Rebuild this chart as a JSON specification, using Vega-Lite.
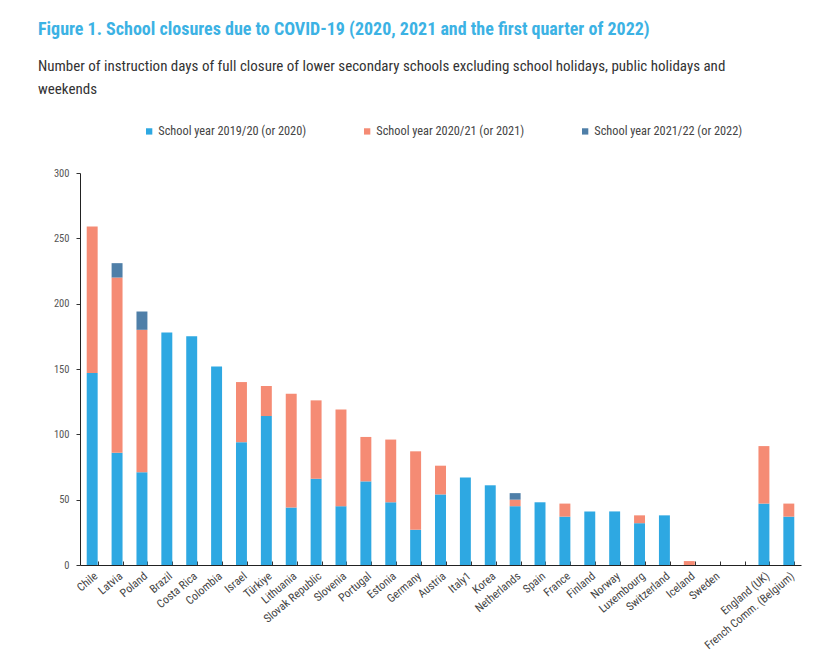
{
  "$schema": "https://vega.github.io/schema/vega-lite/v6.json",
  "width": 721,
  "height": 392,
  "autosize": "none",
  "padding": {"left": 80, "top": 173, "right": 13, "bottom": 101},
  "background": "white",
  "title": {
    "text": "Figure 1. School closures due to COVID-19 (2020, 2021 and the first quarter of 2022)",
    "subtitle": ["Number of instruction days of full closure of lower secondary schools excluding school holidays, public holidays and", "weekends"],
    "anchor": "start",
    "frame": "group",
    "dx": -42,
    "font": "Liberation Sans Narrow, Arial Narrow, Roboto Condensed, sans-serif",
    "fontSize": 18,
    "fontWeight": "bold",
    "color": "#3cb2e4",
    "subtitleFont": "Liberation Sans Narrow, Arial Narrow, Roboto Condensed, sans-serif",
    "subtitleFontSize": 15,
    "subtitleColor": "#333333",
    "subtitleLineHeight": 23,
    "subtitlePadding": 20,
    "offset": 28
  },
  "data": {
    "values": [
      {"country": "Chile", "series": "School year 2019/20 (or 2020)", "value": 147},
      {"country": "Chile", "series": "School year 2020/21 (or 2021)", "value": 112},
      {"country": "Latvia", "series": "School year 2019/20 (or 2020)", "value": 86},
      {"country": "Latvia", "series": "School year 2020/21 (or 2021)", "value": 134},
      {"country": "Latvia", "series": "School year 2021/22 (or 2022)", "value": 11},
      {"country": "Poland", "series": "School year 2019/20 (or 2020)", "value": 71},
      {"country": "Poland", "series": "School year 2020/21 (or 2021)", "value": 109},
      {"country": "Poland", "series": "School year 2021/22 (or 2022)", "value": 14},
      {"country": "Brazil", "series": "School year 2019/20 (or 2020)", "value": 178},
      {"country": "Costa Rica", "series": "School year 2019/20 (or 2020)", "value": 175},
      {"country": "Colombia", "series": "School year 2019/20 (or 2020)", "value": 152},
      {"country": "Israel", "series": "School year 2019/20 (or 2020)", "value": 94},
      {"country": "Israel", "series": "School year 2020/21 (or 2021)", "value": 46},
      {"country": "Türkiye", "series": "School year 2019/20 (or 2020)", "value": 114},
      {"country": "Türkiye", "series": "School year 2020/21 (or 2021)", "value": 23},
      {"country": "Lithuania", "series": "School year 2019/20 (or 2020)", "value": 44},
      {"country": "Lithuania", "series": "School year 2020/21 (or 2021)", "value": 87},
      {"country": "Slovak Republic", "series": "School year 2019/20 (or 2020)", "value": 66},
      {"country": "Slovak Republic", "series": "School year 2020/21 (or 2021)", "value": 60},
      {"country": "Slovenia", "series": "School year 2019/20 (or 2020)", "value": 45},
      {"country": "Slovenia", "series": "School year 2020/21 (or 2021)", "value": 74},
      {"country": "Portugal", "series": "School year 2019/20 (or 2020)", "value": 64},
      {"country": "Portugal", "series": "School year 2020/21 (or 2021)", "value": 34},
      {"country": "Estonia", "series": "School year 2019/20 (or 2020)", "value": 48},
      {"country": "Estonia", "series": "School year 2020/21 (or 2021)", "value": 48},
      {"country": "Germany", "series": "School year 2019/20 (or 2020)", "value": 27},
      {"country": "Germany", "series": "School year 2020/21 (or 2021)", "value": 60},
      {"country": "Austria", "series": "School year 2019/20 (or 2020)", "value": 54},
      {"country": "Austria", "series": "School year 2020/21 (or 2021)", "value": 22},
      {"country": "Italy1", "series": "School year 2019/20 (or 2020)", "value": 67},
      {"country": "Korea", "series": "School year 2019/20 (or 2020)", "value": 61},
      {"country": "Netherlands", "series": "School year 2019/20 (or 2020)", "value": 45},
      {"country": "Netherlands", "series": "School year 2020/21 (or 2021)", "value": 5},
      {"country": "Netherlands", "series": "School year 2021/22 (or 2022)", "value": 5},
      {"country": "Spain", "series": "School year 2019/20 (or 2020)", "value": 48},
      {"country": "France", "series": "School year 2019/20 (or 2020)", "value": 37},
      {"country": "France", "series": "School year 2020/21 (or 2021)", "value": 10},
      {"country": "Finland", "series": "School year 2019/20 (or 2020)", "value": 41},
      {"country": "Norway", "series": "School year 2019/20 (or 2020)", "value": 41},
      {"country": "Luxembourg", "series": "School year 2019/20 (or 2020)", "value": 32},
      {"country": "Luxembourg", "series": "School year 2020/21 (or 2021)", "value": 6},
      {"country": "Switzerland", "series": "School year 2019/20 (or 2020)", "value": 38},
      {"country": "Iceland", "series": "School year 2019/20 (or 2020)", "value": 0},
      {"country": "Iceland", "series": "School year 2020/21 (or 2021)", "value": 3},
      {"country": "Sweden", "series": "School year 2019/20 (or 2020)", "value": 0},
      {"country": "England (UK)", "series": "School year 2019/20 (or 2020)", "value": 47},
      {"country": "England (UK)", "series": "School year 2020/21 (or 2021)", "value": 44},
      {"country": "French Comm. (Belgium)", "series": "School year 2019/20 (or 2020)", "value": 37},
      {"country": "French Comm. (Belgium)", "series": "School year 2020/21 (or 2021)", "value": 10}
    ]
  },
  "mark": {"type": "bar"},
  "encoding": {
    "x": {
      "field": "country",
      "type": "nominal",
      "scale": {
        "domain": ["Chile", "Latvia", "Poland", "Brazil", "Costa Rica", "Colombia", "Israel", "Türkiye", "Lithuania", "Slovak Republic", "Slovenia", "Portugal", "Estonia", "Germany", "Austria", "Italy1", "Korea", "Netherlands", "Spain", "France", "Finland", "Norway", "Luxembourg", "Switzerland", "Iceland", "Sweden", " ", "England (UK)", "French Comm. (Belgium)"],
        "paddingInner": 0.56,
        "paddingOuter": 0.27
      },
      "axis": {
        "title": null,
        "labelAngle": -40,
        "labelFont": "Liberation Sans Narrow, Arial Narrow, Roboto Condensed, sans-serif",
        "labelFontSize": 11.5,
        "labelColor": "#444444",
        "tickBand": "extent",
        "tickSize": -4,
        "tickColor": "#333333",
        "labelPadding": 9,
        "domainColor": "#222222"
      }
    },
    "y": {
      "field": "value",
      "type": "quantitative",
      "aggregate": "sum",
      "stack": "zero",
      "scale": {"domain": [0, 300]},
      "axis": {
        "title": null,
        "grid": false,
        "values": [0, 50, 100, 150, 200, 250, 300],
        "labelFont": "Liberation Sans Narrow, Arial Narrow, Roboto Condensed, sans-serif",
        "labelFontSize": 10.5,
        "labelColor": "#555555",
        "tickSize": 4,
        "tickColor": "#333333",
        "domainColor": "#222222",
        "labelPadding": 7
      }
    },
    "color": {
      "field": "series",
      "type": "nominal",
      "scale": {
        "domain": ["School year 2019/20 (or 2020)", "School year 2020/21 (or 2021)", "School year 2021/22 (or 2022)"],
        "range": ["#2ea8e2", "#f58b74", "#4f7fa8"]
      },
      "legend": {
        "title": null,
        "orient": "none",
        "legendX": 63,
        "legendY": -48,
        "direction": "horizontal",
        "columns": 3,
        "symbolType": "square",
        "symbolSize": 40,
        "symbolStrokeWidth": 0,
        "labelFont": "Liberation Sans Narrow, Arial Narrow, Roboto Condensed, sans-serif",
        "labelFontSize": 12.3,
        "labelColor": "#444444",
        "columnPadding": 54,
        "labelOffset": 3
      }
    },
    "order": {"field": "series", "sort": "ascending"}
  },
  "config": {"view": {"stroke": null}}
}
